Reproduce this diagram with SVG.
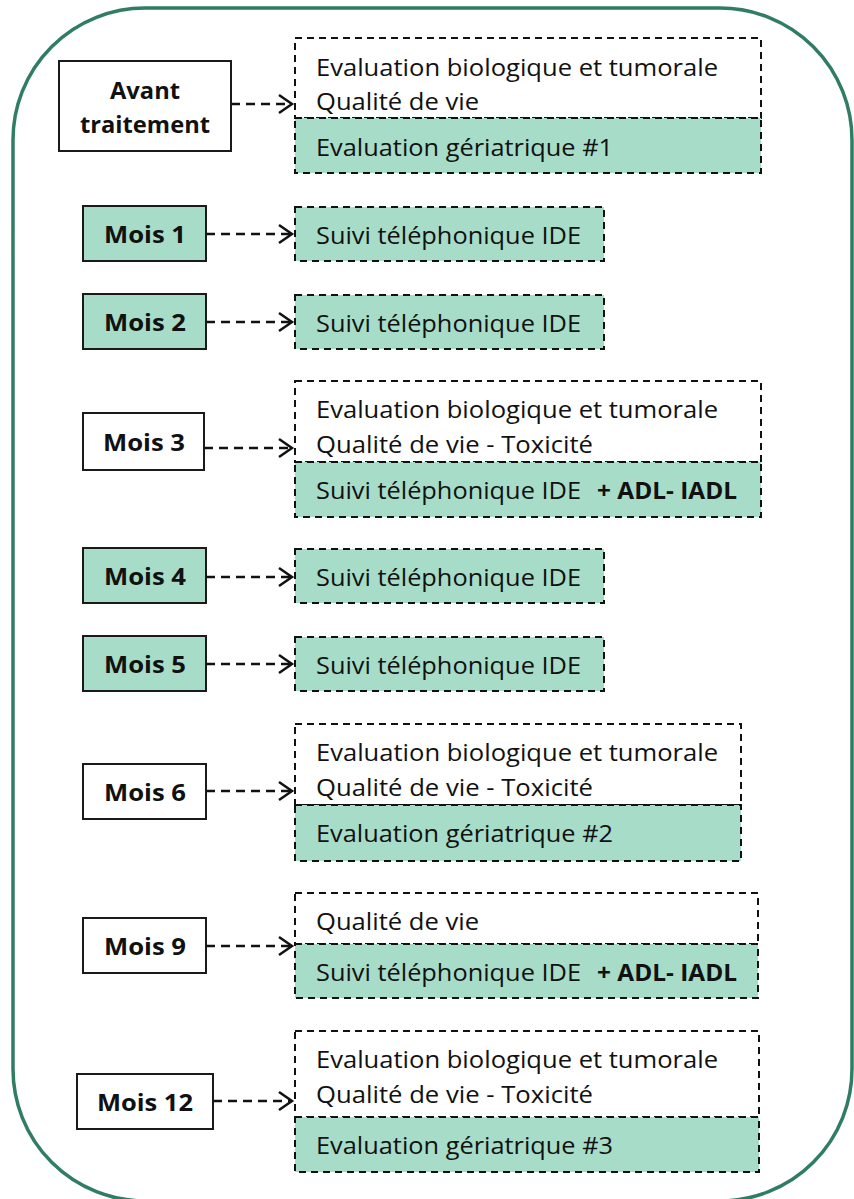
<svg xmlns="http://www.w3.org/2000/svg" width="854" height="1199" viewBox="0 0 854 1199">
<defs>
<style>
.frame{fill:none;stroke:#317d64;stroke-width:3.5}
.lbl{stroke:#1a1a1a;stroke-width:2}
.w{fill:#ffffff}
.g{fill:#a6dcc8}
.dash{stroke:#111;stroke-width:2;stroke-dasharray:7,5}
.t{font-family:"Open Sans","Noto Sans",sans-serif;font-size:23px;fill:#111}
.b{font-family:"Open Sans","Noto Sans",sans-serif;font-size:24px;font-weight:bold;fill:#111;text-anchor:middle}
.bb{font-weight:bold}
.conn{fill:none;stroke:#111;stroke-width:2.5;stroke-dasharray:9,6}
.head{fill:none;stroke:#111;stroke-width:2.5}
</style>
</defs>
<rect x="0" y="0" width="854" height="1199" fill="#ffffff"/>
<rect class="frame" x="13" y="8" width="839" height="1193" rx="132" ry="132"/>

<g id="connectors">
<line class="conn" x1="231" y1="104" x2="290" y2="104"/><polyline class="head" points="279,95 292,104 279,113"/>
<line class="conn" x1="206" y1="234" x2="290" y2="234"/><polyline class="head" points="279,225 292,234 279,243"/>
<line class="conn" x1="206" y1="322" x2="290" y2="322"/><polyline class="head" points="279,313 292,322 279,331"/>
<line class="conn" x1="204" y1="448" x2="290" y2="448"/><polyline class="head" points="279,439 292,448 279,457"/>
<line class="conn" x1="206" y1="577" x2="290" y2="577"/><polyline class="head" points="279,568 292,577 279,586"/>
<line class="conn" x1="206" y1="664" x2="290" y2="664"/><polyline class="head" points="279,655 292,664 279,673"/>
<line class="conn" x1="206" y1="791" x2="290" y2="791"/><polyline class="head" points="279,782 292,791 279,800"/>
<line class="conn" x1="206" y1="946" x2="290" y2="946"/><polyline class="head" points="279,937 292,946 279,955"/>
<line class="conn" x1="213" y1="1101" x2="290" y2="1101"/><polyline class="head" points="279,1092 292,1101 279,1110"/>
</g>

<g id="avant">
<rect class="lbl w" x="59" y="61" width="172" height="90"/>
<text class="b" x="145" y="99" textLength="70" lengthAdjust="spacingAndGlyphs">Avant</text>
<text class="b" x="145" y="133" textLength="130" lengthAdjust="spacingAndGlyphs">traitement</text>
</g>
<g id="avant-detail">
<rect class="dash w" x="295" y="38" width="466" height="80"/>
<rect class="dash g" x="295" y="118" width="466" height="55"/>
<text class="t" x="316" y="76" textLength="402" lengthAdjust="spacingAndGlyphs">Evaluation biologique et tumorale</text>
<text class="t" x="316" y="110" textLength="163" lengthAdjust="spacingAndGlyphs">Qualité de vie</text>
<text class="t" x="316" y="156" textLength="297" lengthAdjust="spacingAndGlyphs">Evaluation gériatrique #1</text>
</g>

<g id="mois1">
<rect class="lbl g" x="83" y="206" width="123" height="55"/>
<text class="b" x="145" y="243" textLength="82" lengthAdjust="spacingAndGlyphs">Mois 1</text>
</g>
<g id="mois1-detail">
<rect class="dash g" x="295" y="207" width="309" height="54"/>
<text class="t" x="316" y="244" textLength="265" lengthAdjust="spacingAndGlyphs">Suivi téléphonique IDE</text>
</g>

<g id="mois2">
<rect class="lbl g" x="83" y="294" width="123" height="55"/>
<text class="b" x="145" y="331" textLength="82" lengthAdjust="spacingAndGlyphs">Mois 2</text>
</g>
<g id="mois2-detail">
<rect class="dash g" x="295" y="295" width="309" height="54"/>
<text class="t" x="316" y="332" textLength="265" lengthAdjust="spacingAndGlyphs">Suivi téléphonique IDE</text>
</g>

<g id="mois3">
<rect class="lbl w" x="83" y="413" width="121" height="57"/>
<text class="b" x="144" y="451" textLength="82" lengthAdjust="spacingAndGlyphs">Mois 3</text>
</g>
<g id="mois3-detail">
<rect class="dash w" x="295" y="381" width="466" height="81"/>
<rect class="dash g" x="295" y="462" width="466" height="55"/>
<text class="t" x="316" y="418" textLength="402" lengthAdjust="spacingAndGlyphs">Evaluation biologique et tumorale</text>
<text class="t" x="316" y="453" textLength="277" lengthAdjust="spacingAndGlyphs">Qualité de vie - Toxicité</text>
<text class="t" x="316" y="499" textLength="265" lengthAdjust="spacingAndGlyphs">Suivi téléphonique IDE</text>
<text class="t bb" x="597" y="499" textLength="140" lengthAdjust="spacingAndGlyphs">+ ADL- IADL</text>
</g>

<g id="mois4">
<rect class="lbl g" x="83" y="548" width="123" height="55"/>
<text class="b" x="145" y="585" textLength="82" lengthAdjust="spacingAndGlyphs">Mois 4</text>
</g>
<g id="mois4-detail">
<rect class="dash g" x="295" y="549" width="309" height="54"/>
<text class="t" x="316" y="586" textLength="265" lengthAdjust="spacingAndGlyphs">Suivi téléphonique IDE</text>
</g>

<g id="mois5">
<rect class="lbl g" x="83" y="636" width="123" height="55"/>
<text class="b" x="145" y="673" textLength="82" lengthAdjust="spacingAndGlyphs">Mois 5</text>
</g>
<g id="mois5-detail">
<rect class="dash g" x="295" y="637" width="309" height="54"/>
<text class="t" x="316" y="674" textLength="265" lengthAdjust="spacingAndGlyphs">Suivi téléphonique IDE</text>
</g>

<g id="mois6">
<rect class="lbl w" x="83" y="764" width="123" height="55"/>
<text class="b" x="145" y="801" textLength="82" lengthAdjust="spacingAndGlyphs">Mois 6</text>
</g>
<g id="mois6-detail">
<rect class="dash w" x="295" y="724" width="446" height="81"/>
<rect class="dash g" x="295" y="805" width="446" height="56"/>
<text class="t" x="316" y="761" textLength="402" lengthAdjust="spacingAndGlyphs">Evaluation biologique et tumorale</text>
<text class="t" x="316" y="796" textLength="277" lengthAdjust="spacingAndGlyphs">Qualité de vie - Toxicité</text>
<text class="t" x="316" y="842" textLength="297" lengthAdjust="spacingAndGlyphs">Evaluation gériatrique #2</text>
</g>

<g id="mois9">
<rect class="lbl w" x="83" y="918" width="123" height="55"/>
<text class="b" x="145" y="955" textLength="82" lengthAdjust="spacingAndGlyphs">Mois 9</text>
</g>
<g id="mois9-detail">
<rect class="dash w" x="295" y="893" width="463" height="51"/>
<rect class="dash g" x="295" y="944" width="463" height="54"/>
<text class="t" x="316" y="930" textLength="163" lengthAdjust="spacingAndGlyphs">Qualité de vie</text>
<text class="t" x="316" y="981" textLength="265" lengthAdjust="spacingAndGlyphs">Suivi téléphonique IDE</text>
<text class="t bb" x="597" y="981" textLength="140" lengthAdjust="spacingAndGlyphs">+ ADL- IADL</text>
</g>

<g id="mois12">
<rect class="lbl w" x="77" y="1074" width="136" height="55"/>
<text class="b" x="145" y="1111" textLength="96" lengthAdjust="spacingAndGlyphs">Mois 12</text>
</g>
<g id="mois12-detail">
<rect class="dash w" x="295" y="1031" width="464" height="86"/>
<rect class="dash g" x="295" y="1117" width="464" height="55"/>
<text class="t" x="316" y="1068" textLength="402" lengthAdjust="spacingAndGlyphs">Evaluation biologique et tumorale</text>
<text class="t" x="316" y="1103" textLength="277" lengthAdjust="spacingAndGlyphs">Qualité de vie - Toxicité</text>
<text class="t" x="316" y="1154" textLength="297" lengthAdjust="spacingAndGlyphs">Evaluation gériatrique #3</text>
</g>
</svg>
